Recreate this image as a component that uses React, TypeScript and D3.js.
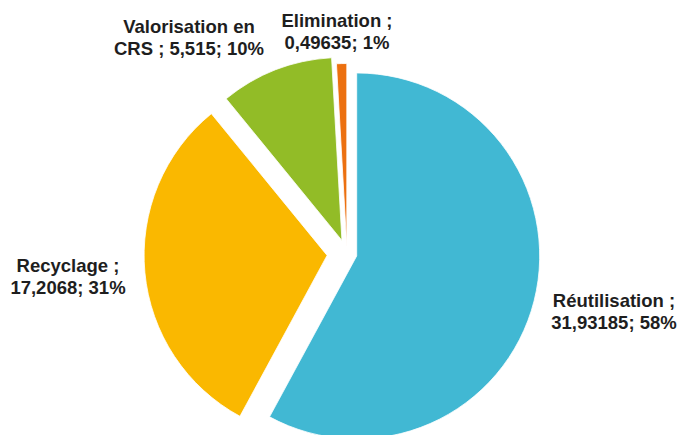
import React from "react";
import * as d3 from "d3";

const categories = ["Réutilisation", "Recyclage", "Valorisation en CRS", "Elimination"];
const values = [31.93185, 17.2068, 5.515, 0.49635];
const colors = ["#41B8D3", "#FAB800", "#92BC27", "#EC7010"];
// explosion distance per slice (px)
const explode = [10, 20, 14, 7];
// label line splits and anchors (layout)
const labelLines: [string, string][] = [
  ["Réutilisation ;", ""],
  ["Recyclage ;", ""],
  ["Valorisation en", "CRS ;"],
  ["Elimination ;", ""],
];
const labelAnchors: [number, number][] = [
  [614, 307],
  [68, 272],
  [189, 33],
  [337, 27],
];

const W = 679;
const H = 435;
const CX = 347;
const CY = 253.5;
const R = 183;

function fmt(v: number) {
  return String(v).replace(".", ",");
}

export default function App() {
  const total = d3.sum(values);
  const pie = d3
    .pie<number>()
    .sort(null)
    .startAngle(0)
    .endAngle(2 * Math.PI)(values);
  const arc = d3.arc<d3.PieArcDatum<number>>().innerRadius(0).outerRadius(R);

  return (
    <svg
      width={W}
      height={H}
      style={{ position: "absolute", left: 0, top: 0, background: "#fff" }}
    >
      {pie.map((p, i) => {
        const mid = (p.startAngle + p.endAngle) / 2;
        const dx = Math.sin(mid) * explode[i];
        const dy = -Math.cos(mid) * explode[i];
        return (
          <path
            key={i}
            d={arc(p) || ""}
            transform={`translate(${CX + dx},${CY + dy})`}
            fill={colors[i]}
            stroke="#ffffff"
            strokeWidth={0.8}
          />
        );
      })}
      {values.map((v, i) => {
        const pct = Math.round((v / total) * 100);
        const [l1, pre2] = labelLines[i];
        const line2 = `${pre2 ? pre2 + " " : ""}${fmt(v)}; ${pct}%`;
        const [x, y] = labelAnchors[i];
        return (
          <text
            key={i}
            x={x}
            y={y}
            textAnchor="middle"
            fontFamily="'Liberation Sans', Arial, sans-serif"
            fontWeight="bold"
            fontSize={18.5}
            fill="#1E1E1E"
          >
            <tspan x={x} y={y}>
              {l1}
            </tspan>
            <tspan x={x} y={y + 21.5}>
              {line2}
            </tspan>
          </text>
        );
      })}
    </svg>
  );
}
